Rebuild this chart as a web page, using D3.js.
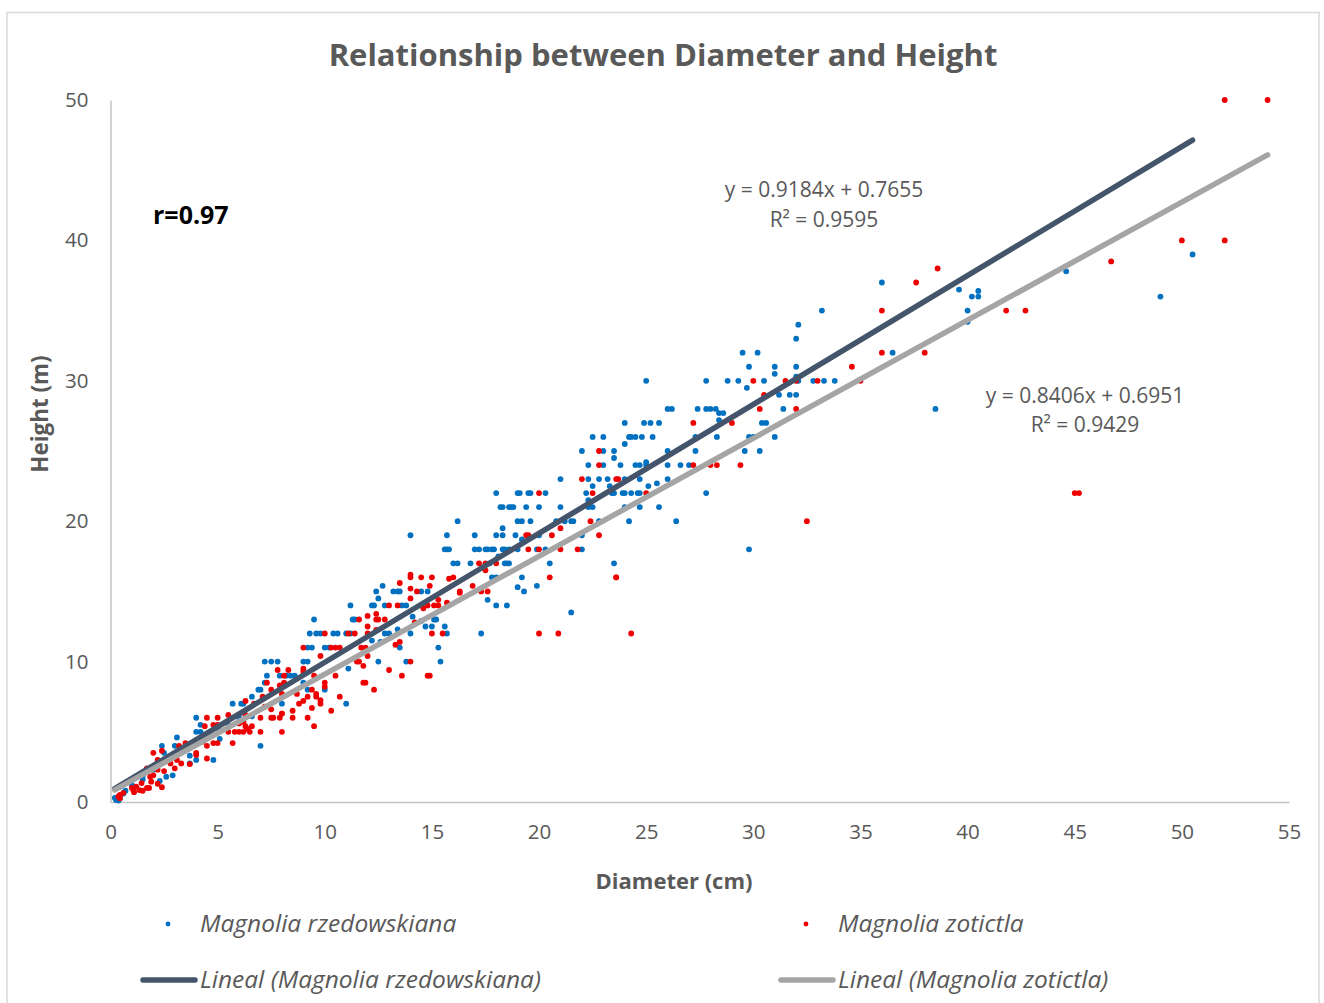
<!DOCTYPE html>
<html>
<head>
<meta charset="utf-8">
<script src="https://cdn.jsdelivr.net/npm/d3@7"></script>
<style>
  body { margin: 0; background: #fff; }
  text { font-family: "Open Sans", sans-serif; fill: #595959; }
</style>
</head>
<body>
<svg width="1324" height="1003"></svg>
<script>
// values, [diameter, height]
var rzedowskiana = [
  [33.2,35],[32.1,34],[32,33],[29.5,32],[30.2,32],[29.8,31],[31,31],[32,31],[31,30.5],[32,30.3],[27.8,30],[28.8,30],[29.3,30],[30.5,30],[32.1,30],[32.8,30],[33.3,30],[33.8,30],[29.7,29.5],[31.2,29],[31.7,29],[32,29],
  [27.4,28],[27.8,28],[28,28],[28.25,28],[28.4,27.7],[28.6,27.7],[31.4,28],[28.4,27.2],[30.4,27],[30.6,27],[27.3,26],[28.3,26],[29.8,26],[30,26],[31,26],[27.3,25],[29.6,25],[30.3,25],[26.6,24],[27,24],[27.8,22],
  [36.5,32],[38.5,28],[36,37],[39.6,36.5],[40,35],[40,34.2],[40.2,36],[40.5,36.4],[40.5,36],[44.6,37.8],[50.5,39],[49,36],[29.8,18],[25,30],
  [26,28],[26.2,28],[24,27],[24.9,27],[25.2,27],[25.6,27],[22.5,26],[23,26],[24.2,26],[24.3,26],[24.5,26],[24.8,26],[25.3,26],[24,25.5],[22,25],[23,25],[23.5,25],[26,25],[23.5,24.5],[25,24.2],
  [22.3,24],[23,24],[23.8,24],[24.5,24],[24.7,24],[25,24],[26,24],[21,23],[22.3,23],[22.8,23],[23.2,23],[24,23],[24.7,23],[26,23],[22.5,22.5],[23.3,22.5],[25.1,22.5],[25.5,22.7],
  [18,22],[19,22],[19.1,22],[19.5,22],[19.6,22],[20.3,22],[22.2,22],[23.4,22],[23.5,22],[23.9,22],[24,22],[24.3,22],[24.6,22],[24.7,22],[22.3,21.5],
  [18.2,21],[18.3,21],[18.6,21],[18.7,21],[18.8,21],[19.4,21],[20,21],[21,21],[22.3,21],[22.5,21],[24,21],[24.7,21],[25.6,21],
  [19,20],[19.2,20],[19.6,20],[20.8,20],[21.2,20],[21.5,20],[21.6,20],[22.8,20],[24.2,20],[26.4,20],[18.3,19.5],[17,19],[18,19],[18.3,19],[18.9,19],[20,19],[22,19],[19.2,18.7],
  [17,18],[17.2,18],[17.5,18],[17.6,18],[17.8,18],[17.9,18],[18.3,18],[18.4,18],[18.6,18],[19,18],[19.9,18],[20.3,18],[22,18],[18.1,17.5],[16.8,17],[17.7,17],[18.4,17],[18.5,17],[18.6,17],[20.5,17],[23.5,17],
  [17.8,16],[18,16],[19.2,16],[19,15.3],[19.9,15.4],[19.3,15],[17.6,14.4],[18,14],[18.5,14],[21.5,13.5],
  [14,19],[15.7,19],[16.2,20],[15.6,18],[15.7,18],[15.8,18],[16,17],[16.2,17],[12.7,15.4],[12.4,15],[13.2,15],[13.4,15],[13.5,15],[14.5,15],[14.8,15],[12.5,14.5],
  [11.2,14],[12.2,14],[12.3,14],[12.8,14],[13.6,14],[13.8,14],[9.5,13],[11.3,13],[11.4,13],[9.3,12],[9.6,12],[9.8,12],[10.4,12],[10.6,12],[11,12],[11.2,12],[12.8,12],[13,12],[14,12],[15.7,12],[17.3,12],
  [9.2,11],[9.4,11],[10,11],[10.2,11],[7.2,10],[7.5,10],[7.8,10],[9,10],[9.2,10],[12.5,10],[13.8,10],[15.4,10],[7.3,9],[7.9,9],[8.2,9],[8.4,9],[8.6,9],[7.2,8.5],[6.9,8],[7,8],[9,8.5],[9.2,8],[10,8],[6.6,7.5],[8,7],[11,7],
  [11.1,9.5],[12.2,11.5],[12.6,11.4],[13.4,12.3],[13.5,11],[14.1,13.2],[14.5,12.9],[14.7,12.5],[15,12.5],[15.2,13],[15.6,12.5],[15.3,11],[15.1,13],
  [5.7,7],[6.1,7],[6.2,7],[4,6],[4.2,5.5],[4,5],[4.2,5],[3.1,4.6],[3,4],[2.4,4],[2.5,3.5],[7,4],[4.8,3],[4,3],[3.7,3.3],[3.7,2.75],[2.9,1.9],[2.6,1.8],[2.3,1.5],[6.6,6.1],[5.1,4.5],[4.6,4.9],[4,4.4],
  [0.2,0.3],[0.26,0.14],[0.37,0.1],[0.44,0.25],[0.6,0.6],[0.7,0.8],[0.47,1.1],[1.5,1.6],[1,1.2],[1.5,1.8],[2,2.3],[2.5,2.9],[3,3.2],[3.5,3.8],[4.5,4.7],[5,5.2],[5.5,5.5],[6,6]
];

var zotictla = [
  [36,35],[36,32],[38,32],[34.6,31],[30,30],[31.5,30],[32,30],[33,30],[35,30],[30.5,29],[30.3,28],[32,28],[27.2,27],[29,27],[27.2,24],[28,24],[28.3,24],[29.4,24],
  [52,50],[54,50],[50,40],[52,40],[46.7,38.5],[38.6,38],[37.6,37],[41.8,35],[42.7,35],[45,22],[45.2,22],[32.5,20],[24.3,12],[20,12],[20.9,12],[23.6,16],
  [22.8,25],[22.8,24],[22,23],[23.6,23],[23.7,23],[20,22],[22.5,22],[25,22],[22.4,20],[21,19.5],[19.4,19],[19.5,19],[20.6,19],[22.8,19],[19.5,18],[20,18],[21,18],[21.8,18],
  [17.2,17],[17.5,17],[18,17],[17.5,16.5],[20.5,16],[23.6,16],[16.9,15.4],[16.3,15],[17.3,15],[17.6,15],
  [14,16.2],[14,16],[14.5,16],[15,16],[15.8,15.9],[16,16],[13.5,15.6],[14.9,15.4],[14,15.2],[14.3,15],[16.3,14.9],[15.3,14.4],[14,14.5],[15.7,14.2],[13.4,14],[13,14],[14.6,13.8],[14.8,14],[15.1,14],[15.3,14],
  [12,13.25],[12.4,13.4],[12.4,13],[12.5,13],[12.8,13],[11.6,13],[12,12.5],[12.4,12.25],[10,12],[11.1,12],[11.4,12],[12,12],[15,12],[15.5,12],[14.2,12.8],
  [9,11],[10.3,11],[10.5,11],[10.7,11],[11.7,11],[11.9,11],[13.3,11.2],[13.5,11.4],[9.8,10.4],[8.3,9.4],[9,9.5],[9,9.3],[11.5,10],[11.6,10],[12,10.4],[11.8,9.7],[14,10],[7.8,9.4],
  [8.1,9],[10.5,9],[9.5,9],[13,9.4],[13.6,9],[14.8,9],[14.9,9],[11.8,8.5],[11.9,8.5],[12.3,8],[10,8.5],[10,8.2],[8.1,8.5],[7.3,8.5],[7.9,8.3],[7.5,8],[9.4,8],[9.6,7.7],[9.6,7.5],[10.7,7.5],[9.2,7.5],[9.8,7.25],
  [9,7.2],[8.8,7],[9.8,7],[9.4,6.7],[8.5,6.5],[10.3,6.5],[8,6.3],[7.5,6.6],[7.1,7.5],[8.7,7.7],[8,7.7],[7.2,6.8],[6.7,7],
  [4.5,6],[5,6],[5.5,6.2],[4.4,5.4],[4.8,5.5],[5,5.5],[6.3,7.2],[6.3,5.4],[6.4,5.2],[6.6,5.4],[5.8,5],[6,5],[6.2,5],[6.5,5],[7,5],[8,5],[5.7,4.2],[5.5,5],[7,6],[7.5,6],[7.6,6],[7.9,6],[8.5,6],[9.2,6],[9.5,5.4],[8,6.3],[6.3,6.2],[6,5.6],[6.2,5.7],
  [3.5,4.2],[3.2,4],[4.8,4.2],[5,4.2],[4.5,4],[4.3,4.3],[4,3.5],[4,3.35],[4.5,3.1],[3.7,2.7],[2,3.5],[2.4,3.65],[3,2.4],[3.3,2.75],[3.1,3],[2.8,2.75],[2.2,3],[1.7,2.4],[2.5,2.2],[2.2,2.3],[2,1.9],[1.85,1.8],
  [2.4,1.05],[2.2,1.3],[1.9,1.45],[1.8,1],[1.7,1],[1.5,0.8],[1.35,0.85],[1.1,0.7],[1,1],[1.2,1.1],[1.45,1.35],[0.44,0.27],[0.44,0.5],[0.6,0.65],[0.37,0.4],[1.07,0.85]
];

// trendline: [slope, intercept], and the diameters it runs between
var trendRzedowskiana = [0.9184, 0.7655];
var trendZotictla = [0.8406, 0.6951];
var trendRangeR = [0.2, 50.5];
var trendRangeZ = [0.2, 54];

var xTicks = [0, 5, 10, 15, 20, 25, 30, 35, 40, 45, 50, 55];
var yTicks = [0, 10, 20, 30, 40, 50];

var blue = "#0070c0", red = "#ee0000", dark = "#44546a", grey = "#a5a5a5";

var svg = d3.select("svg");

// chart frame, runs off the bottom of the picture
svg.append("path")
  .attr("d", "M7,1003V12.5H1319V1003")
  .attr("fill", "none")
  .attr("stroke", "#d9d9d9")
  .attr("stroke-width", 1.5);

var x = d3.scaleLinear().domain([0, 55]).range([110.5, 1289]);
var y = d3.scaleLinear().domain([0, 50]).range([802, 100]);

var xAxis = svg.append("g")
  .attr("transform", "translate(0,802)")
  .call(d3.axisBottom(x).tickValues(xTicks).tickSize(0).tickPadding(22));

var yAxis = svg.append("g")
  .attr("transform", "translate(110.5,0)")
  .call(d3.axisLeft(y).tickValues(yTicks).tickSize(0).tickPadding(22));

[xAxis, yAxis].forEach(function(a) {
  a.select(".domain").attr("stroke", "#c4c4c4").attr("stroke-width", 1.5);
  a.selectAll("text").style("font-size", "20.5px").style("font-family", '"Open Sans", sans-serif').attr("fill", "#595959");
});

function dots(data, colour) {
  svg.append("g").selectAll("circle")
    .data(data)
    .enter().append("circle")
    .attr("cx", d => x(d[0]))
    .attr("cy", d => y(d[1]))
    .attr("r", 2.9)
    .attr("fill", colour);
}

dots(rzedowskiana, blue);
dots(zotictla, red);

function trend(coef, range, colour) {
  svg.append("line")
    .attr("x1", x(range[0]))
    .attr("y1", y(coef[0] * range[0] + coef[1]))
    .attr("x2", x(range[1]))
    .attr("y2", y(coef[0] * range[1] + coef[1]))
    .attr("stroke", colour)
    .attr("stroke-width", 5.5)
    .attr("stroke-linecap", "round");
}

trend(trendRzedowskiana, trendRangeR, dark);
trend(trendZotictla, trendRangeZ, grey);

function label(str, px, py, size, opts) {
  opts = opts || {};
  var t = svg.append("text")
    .attr("x", px)
    .attr("y", py)
    .attr("text-anchor", opts.anchor || "middle")
    .style("font-size", size + "px")
    .style("font-weight", opts.bold ? "700" : "400")
    .style("font-style", opts.italic ? "italic" : "normal")
    .text(str);
  if (opts.fill) t.style("fill", opts.fill);
  if (opts.rotate) t.attr("transform", "rotate(-90," + px + "," + py + ")");
  return t;
}

label("Relationship between Diameter and Height", 663, 66, 31, {bold: true});
label("Diameter (cm)", 674, 889, 22, {bold: true});
label("Height (m)", 48, 414, 22.4, {bold: true, rotate: true});
label("r=0.97", 153, 224, 25, {bold: true, anchor: "start", fill: "#000"});

label("y = 0.9184x + 0.7655", 824, 197, 21);
label("R² = 0.9595", 824, 227, 21);
label("y = 0.8406x + 0.6951", 1085, 403, 21);
label("R² = 0.9429", 1085, 432, 21);

// legend
svg.append("circle").attr("cx", 168).attr("cy", 924).attr("r", 2.4).attr("fill", blue);
svg.append("circle").attr("cx", 806).attr("cy", 924).attr("r", 2.4).attr("fill", red);
label("Magnolia rzedowskiana", 200, 932, 24.5, {italic: true, anchor: "start"});
label("Magnolia zotictla", 838, 932, 24.5, {italic: true, anchor: "start"});

[[143, 195, dark], [781, 833, grey]].forEach(function(l) {
  svg.append("line")
    .attr("x1", l[0]).attr("x2", l[1])
    .attr("y1", 980).attr("y2", 980)
    .attr("stroke", l[2])
    .attr("stroke-width", 5.5)
    .attr("stroke-linecap", "round");
});
label("Lineal (Magnolia rzedowskiana)", 200, 988, 24.5, {italic: true, anchor: "start"});
label("Lineal (Magnolia zotictla)", 838, 988, 24.5, {italic: true, anchor: "start"});
</script>
</body>
</html>
